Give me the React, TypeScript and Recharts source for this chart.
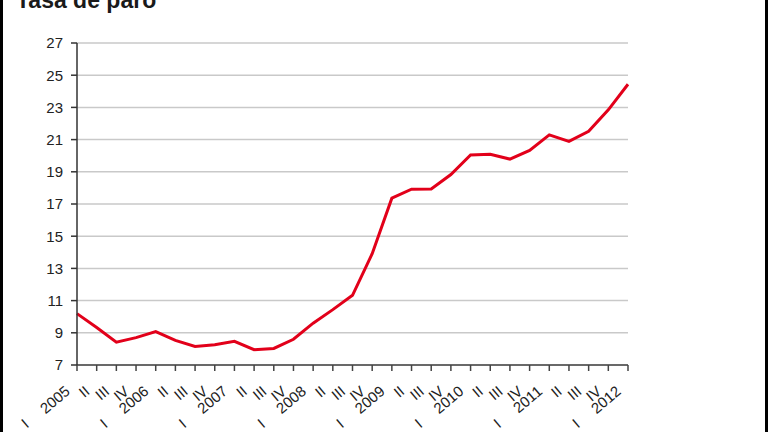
import { LineChart, Line, XAxis, YAxis, CartesianGrid } from 'recharts';

// Tasa de paro (EPA), trimestral 2005 I - 2012 I
const years = ['2005', '2006', '2007', '2008', '2009', '2010', '2011', '2012'];
const quarters = ['I', 'II', 'III', 'IV'];
const tasaParo = [
  10.19, 9.33, 8.42, 8.7, 9.07, 8.53, 8.15, 8.26, 8.47, 7.95, 8.03, 8.6, 9.6, 10.44, 11.33, 13.91,
  17.36, 17.92, 17.93, 18.83, 20.05, 20.09, 19.79, 20.33, 21.29, 20.89, 21.52, 22.85, 24.44,
];
const yTicks = [7, 9, 11, 13, 15, 17, 19, 21, 23, 25, 27];

const chartData = tasaParo.map((tasa, i) => ({
  periodo: `${quarters[i % 4]} ${years[Math.floor(i / 4)]}`,
  tasa,
}));

const FONT = '"Liberation Sans", Arial, sans-serif';

function PeriodTick({ x, y, payload }: any) {
  const [q, year] = String(payload.value).split(' ');
  const ax = x - 6;
  const ay = y + 20;
  const ix = x - 47;
  const iy = y + 53;
  return (
    <g>
      <text
        x={ax}
        y={ay}
        transform={`rotate(-40 ${ax} ${ay})`}
        textAnchor="end"
        fontSize={15}
        fontFamily={FONT}
        fill="#222"
      >
        {q === 'I' ? year : q}
      </text>
      {q === 'I' && (
        <text
          x={ix}
          y={iy}
          transform={`rotate(-40 ${ix} ${iy})`}
          textAnchor="end"
          fontSize={15}
          fontFamily={FONT}
          fill="#222"
        >
          I
        </text>
      )}
    </g>
  );
}

export default function App() {
  return (
    <div style={{ position: 'fixed', top: 0, left: 0, width: 768, height: 432, background: '#fff', overflow: 'hidden' }}>
      <div
        style={{
          position: 'absolute',
          top: -11,
          left: 16,
          fontFamily: FONT,
          fontWeight: 'bold',
          fontSize: 23,
          lineHeight: '23px',
          color: '#1a1a1a',
        }}
      >
        Tasa de paro
      </div>
      <div style={{ position: 'absolute', top: 0, left: 0, width: 3, height: 432, background: '#000' }} />
      <div style={{ position: 'absolute', top: 0, right: 0, width: 3, height: 432, background: '#000' }} />
      <div style={{ position: 'absolute', top: 0, left: 0 }}>
        <LineChart width={768} height={432} data={chartData} margin={{ top: 43, right: 140, bottom: 0, left: 0 }}>
          <CartesianGrid horizontal vertical={false} stroke="#c9c9c9" strokeWidth={1.5} />
          <XAxis
            dataKey="periodo"
            interval={0}
            height={67}
            tickSize={6}
            tickMargin={2}
            axisLine={{ stroke: '#444', strokeWidth: 1.5 }}
            tickLine={{ stroke: '#444', strokeWidth: 1.5 }}
            tick={<PeriodTick />}
          />
          <YAxis
            width={77}
            domain={[7, 27]}
            ticks={yTicks}
            interval={0}
            tickSize={6}
            tickMargin={8}
            axisLine={{ stroke: '#333', strokeWidth: 1.5 }}
            tickLine={{ stroke: '#333', strokeWidth: 1.5 }}
            tick={{ fontSize: 15, fontFamily: FONT, fill: '#222' }}
          />
          <Line
            type="linear"
            dataKey="tasa"
            stroke="#e2001a"
            strokeWidth={3}
            dot={false}
            isAnimationActive={false}
          />
        </LineChart>
      </div>
    </div>
  );
}
